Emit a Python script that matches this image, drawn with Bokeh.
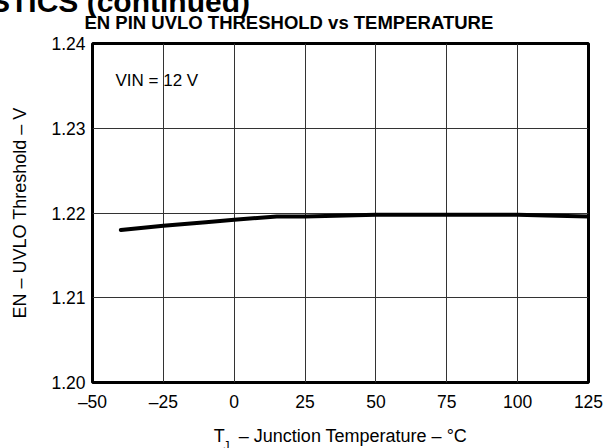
from bokeh.plotting import figure
from bokeh.models import Range1d, FixedTicker, Label, Title
from bokeh.embed import file_html
from bokeh.resources import INLINE

# ---- data ----
temperature_c = [-40, -25, -10, 0, 15, 25, 50, 75, 100, 110, 125]
threshold_v = [1.2180, 1.2185, 1.2189, 1.2192, 1.2196, 1.2196, 1.2198, 1.2198, 1.2198, 1.2197, 1.2196]

x_ticks = [-50, -25, 0, 25, 50, 75, 100, 125]
x_tick_labels = ["\u201350", "\u201325", "0", "25", "50", "75", "100", "125"]
y_ticks = [1.20, 1.21, 1.22, 1.23, 1.24]
y_tick_labels = ["1.20", "1.21", "1.22", "1.23", "1.24"]

title_text = "EN PIN UVLO THRESHOLD vs TEMPERATURE"
header_text = "TYPICAL CHARACTERISTICS (continued)"
note_text = "VIN = 12 V"
y_label_text = "EN \u2013 UVLO Threshold \u2013 V"
x_label_text = "T\u2002 \u2013 Junction Temperature \u2013 \u00b0C"
x_label_sub = "J"

FONT = "Liberation Sans"

p = figure(width=607, height=448,
           x_range=Range1d(-50, 125), y_range=Range1d(1.20, 1.24),
           output_backend="svg", toolbar_location=None,
           min_border_left=92, min_border_right=19,
           min_border_top=43, min_border_bottom=65)
p.title.text = ""

p.background_fill_color = "white"
p.border_fill_color = "white"
p.outline_line_color = "black"
p.outline_line_width = 3

# main title (nearest row above the frame)
p.add_layout(Title(text=title_text, text_font=FONT, text_font_size="18.5px",
                   text_font_style="bold", text_color="black",
                   align="left", vertical_align="top", offset=-8, standoff=18), "above")

# cut-off page header (outermost row, mostly beyond the top edge)
p.add_layout(Title(text=header_text, text_font=FONT, text_font_size="30px",
                   text_font_style="bold", text_color="black",
                   align="right", vertical_align="top", offset=338, standoff=-33.8), "above")

# axes
p.xaxis.ticker = FixedTicker(ticks=x_ticks)
p.yaxis.ticker = FixedTicker(ticks=y_ticks)
p.xaxis.major_label_overrides = dict(zip(x_ticks, x_tick_labels))
p.yaxis.major_label_overrides = dict(zip(y_ticks, y_tick_labels))
for ax in (p.xaxis, p.yaxis):
    ax.axis_line_color = None
    ax.major_tick_line_color = None
    ax.minor_tick_line_color = None
    ax.major_tick_out = 0
    ax.major_tick_in = 0
    ax.major_label_text_font = FONT
    ax.major_label_text_font_size = "17.5px"
    ax.major_label_text_color = "black"
    ax.axis_label_text_font = FONT
    ax.axis_label_text_font_size = "18px"
    ax.axis_label_text_font_style = "normal"
    ax.axis_label_text_color = "black"
p.xaxis.major_label_standoff = 9
p.yaxis.major_label_standoff = 7
p.xaxis.axis_label = x_label_text
p.yaxis.axis_label = y_label_text
p.xaxis.axis_label_standoff = 11
p.yaxis.axis_label_standoff = 18

# subscript J of T_J, as a row just under the x-axis label
p.add_layout(Title(text=x_label_sub, text_font=FONT, text_font_size="12px",
                   text_font_style="normal", text_color="black",
                   align="left", vertical_align="top", offset=131, standoff=-20), "below")

# grid
p.xgrid.ticker = FixedTicker(ticks=x_ticks)
p.ygrid.ticker = FixedTicker(ticks=y_ticks)
p.grid.grid_line_color = "#333333"
p.grid.grid_line_width = 1
p.grid.grid_line_alpha = 1.0

# data line
p.line(temperature_c, threshold_v, line_color="black", line_width=4,
       line_cap="round", line_join="round")

# annotation inside the plot
p.add_layout(Label(x=-41.9, y=1.2356, text=note_text,
                   text_font=FONT, text_font_size="17px",
                   text_align="left", text_baseline="middle", text_color="black"))

open("out.html", "w").write(file_html(p, INLINE))
